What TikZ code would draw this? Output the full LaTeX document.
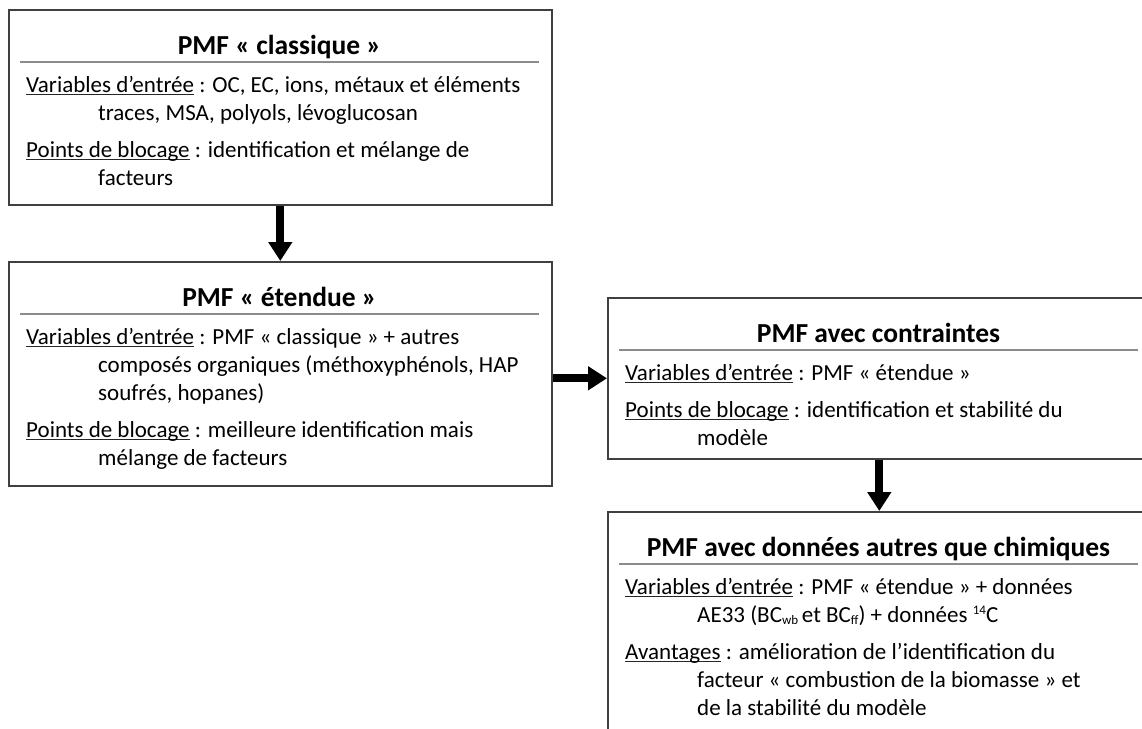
\documentclass[tikz,border=0pt]{standalone}
\usepackage{fontspec}
\setmainfont{Carlito}
\usetikzlibrary{arrows.meta}
\newcommand{\ulx}[1]{\setbox0\hbox{#1}\rlap{\color{black!85}\rule[-2.6pt]{\wd0}{1.1pt}}\box0\relax}
\newcommand{\lowx}[1]{\raisebox{-2.5pt}{\fontsize{13}{13}\selectfont #1}}
\newcommand{\highx}[1]{\raisebox{7.5pt}{\fontsize{13}{13}\selectfont #1}}
\tikzset{
  panel/.style={draw=black!75, line width=1.6pt, fill=white, anchor=north west, inner sep=0pt, minimum width=543pt},
  sep/.style={draw=black!45, line width=1.8pt},
  ttl/.style={anchor=base, inner sep=0pt, font=\fontsize{27.5}{33}\selectfont\bfseries},
  body/.style={anchor=base west, inner sep=0pt, font=\fontsize{23}{28}\selectfont},
  flow/.style={draw=black, line width=8pt, -{Triangle[length=19pt,width=23pt]}}
}
\begin{document}
\begin{tikzpicture}[x=1pt,y=-1pt]
\clip (0,0) rectangle (1142,728);
\fill[white] (0,0) rectangle (1142,728);

% Box 1
\node[panel, minimum height=195pt] (b1) at (8,9) {};
\node[ttl] (b1t) at (279.5,54) {PMF « classique »};
\draw[sep] (20,62) -- (539,62);
\node[body] (b1a) at (26,92) {\ulx{Variables d’entrée} : OC, EC, ions, métaux et éléments};
\node[body] (b1b) at (98,120) {traces, MSA, polyols, lévoglucosan};
\node[body] (b1c) at (26,157) {\ulx{Points de blocage} : identification et mélange de};
\node[body] (b1d) at (98,185) {facteurs};

% Box 2
\node[panel, minimum height=224pt] (b2) at (8,261) {};
\node[ttl] (b2t) at (279.5,306) {PMF « étendue »};
\draw[sep] (20,314) -- (539,314);
\node[body] (b2a) at (26,344) {\ulx{Variables d’entrée} : PMF « classique » + autres};
\node[body] (b2b) at (98,372) {composés organiques (méthoxyphénols, HAP};
\node[body] (b2c) at (98,400) {soufrés, hopanes)};
\node[body] (b2d) at (26,437) {\ulx{Points de blocage} : meilleure identification mais};
\node[body] (b2e) at (98,465) {mélange de facteurs};

% Box 3
\node[panel, minimum height=161pt] (b3) at (607,297) {};
\node[ttl] (b3t) at (878.5,342) {PMF avec contraintes};
\draw[sep] (619,350) -- (1138,350);
\node[body] (b3a) at (625,380) {\ulx{Variables d’entrée} : PMF « étendue »};
\node[body] (b3b) at (625,417) {\ulx{Points de blocage} : identification et stabilité du};
\node[body] (b3c) at (697,445) {modèle};

% Box 4
\node[panel, minimum height=240pt] (b4) at (607,511) {};
\node[ttl] (b4t) at (878.5,556) {PMF avec données autres que chimiques};
\draw[sep] (619,564) -- (1138,564);
\node[body] (b4a) at (625,594) {\ulx{Variables d’entrée} : PMF « étendue » + données};
\node[body] (b4b) at (697,622) {AE33 (BC\lowx{wb}\,et BC\lowx{ff}) + données \highx{14}C};
\node[body] (b4c) at (625,659) {\ulx{Avantages} : amélioration de l’identification du};
\node[body] (b4d) at (697,687) {facteur « combustion de la biomasse » et};
\node[body] (b4e) at (697,715) {de la stabilité du modèle};

% Arrows
\draw[flow] (b1.south) -- (b2.north);
\draw[flow] (b3.west -| b2.east) -- (b3.west);
\draw[flow] (b3.south) -- (b4.north);
\end{tikzpicture}
\end{document}
